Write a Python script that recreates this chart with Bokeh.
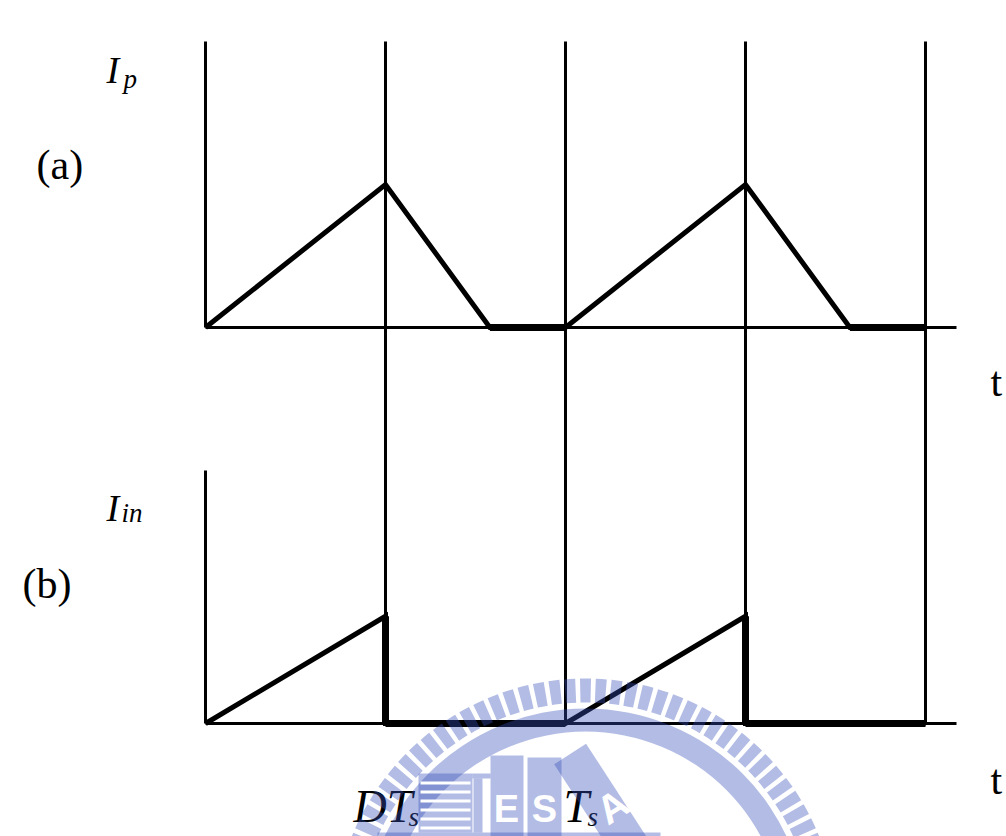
import numpy as np
from bokeh.plotting import figure
from bokeh.models import Range1d
from bokeh.core.properties import value
from bokeh.embed import file_html
from bokeh.resources import INLINE

# ---- waveform data (time normalised to one switching period Ts = 1) ----
marker_t = [0.0, 0.5, 1.0, 1.5, 2.0]          # 0, DTs, Ts, Ts+DTs, 2Ts
ip_t = [0.0, 0.5, 0.79, 1.0, 1.5, 1.79, 2.0]   # primary current Ip
ip_v = [0.0, 1.0, 0.0, 0.0, 1.0, 0.0, 0.0]
iin_t = [0.0, 0.5, 0.5, 1.0, 1.5, 1.5, 2.0]    # input current Iin
iin_v = [0.0, 0.75, 0.0, 0.0, 0.75, 0.0, 0.0]
time_labels = ["DT", "T"]                      # labelled instants (subscript s)
time_label_t = [0.5, 1.0]

# ---- layout of the two stacked panels (data units) ----
W, H = 1006, 836
X0, SX = 205.0, 360.0      # pixel of t=0, pixels per period
Y0, SY = 327.0, 143.0      # pixel of the upper baseline, pixels per unit current
base_a = 0.0
base_b = -(723.0 - Y0) / SY
axis_top_a = 2.0
axis_top_b = base_b + 1.77
t_end = (956.0 - X0) / SX
TEXT_SHIFT = 15            # compensates the renderer's baseline offset


def tx(px):
    return (px - X0) / SX


def ty(py):
    return (Y0 - py) / SY


p = figure(width=W, height=H, x_range=Range1d(tx(0), tx(W)), y_range=Range1d(ty(H), ty(0)),
           toolbar_location=None, output_backend="svg", min_border=0)
p.axis.visible = False
p.grid.visible = False
p.outline_line_color = None
p.background_fill_color = "white"
p.border_fill_color = "white"

thin = 3
ramp = 5
heavy = 7

# baselines
for b in (base_a, base_b):
    p.line([marker_t[0], t_end], [b, b], line_color="black", line_width=thin)

# vertical axes at t = 0 for each panel
p.line([marker_t[0]] * 2, [base_a, axis_top_a], line_color="black", line_width=thin)
p.line([marker_t[0]] * 2, [base_b, axis_top_b], line_color="black", line_width=thin)
# timing markers running through both panels
for t in marker_t[1:]:
    p.line([t, t], [base_b, axis_top_a], line_color="black", line_width=thin)


def draw_wave(ts, vs, base):
    ys = [base + v for v in vs]
    p.line(ts, ys, line_color="black", line_width=ramp, line_join="miter")
    # zero-current intervals and instantaneous drops are drawn heavier
    for i in range(len(ts) - 1):
        if (vs[i] == 0 and vs[i + 1] == 0) or ts[i] == ts[i + 1]:
            p.line(ts[i:i + 2], ys[i:i + 2], line_color="black", line_width=heavy)


draw_wave(ip_t, ip_v, base_a)
draw_wave(iin_t, iin_v, base_b)

serif = value("Liberation Serif")


def label(txt, px, py, size, italic=False, color="black", font=serif, bold=False, angle=0.0,
          align="left", baseline="alphabetic", alpha=1.0, shift=True):
    style = "italic" if italic else "normal"
    if bold:
        style = "bold"
    yy = py - TEXT_SHIFT if shift else py
    p.text(x=[tx(px)], y=[ty(yy)], text=[txt], text_font=font, text_font_size=f"{size}px",
           text_font_style=style, text_color=color, text_align=align, text_baseline=baseline,
           angle=angle, text_alpha=alpha)


# signal names and panel tags
label("I", 106, 84, 38, italic=True)
label("p", 123, 93, 27, italic=True)
label("(a)", 36, 179, 42)
label("I", 106, 522, 38, italic=True)
label("in", 121, 527, 27, italic=True)
label("(b)", 22, 598, 42)
label("t", 990, 396, 42)
label("t", 990, 794, 42)

# time instants under the lower baseline
for name, t in zip(time_labels, time_label_t):
    px = X0 + SX * t
    if name == "DT":
        label("DT", px - 32, 821, 46, italic=True)
        label("s", px + 23, 831, 27, italic=True)
    else:
        label("T", px - 2, 821, 46, italic=True)
        label("s", px + 22, 831, 27, italic=True)

# ---- faint library seal printed over the lower part of the page ----
seal = "#354FB8"
sa = 0.38
cx, cy = tx(585), ty(930)
ang = np.linspace(0, 2 * np.pi, 100, endpoint=False)
half = np.deg2rad(1.25)
p.annular_wedge(x=[cx] * len(ang), y=[cy] * len(ang), inner_radius=228, outer_radius=252,
                inner_radius_units="screen", outer_radius_units="screen",
                start_angle=list(ang - half), end_angle=list(ang + half),
                fill_color=seal, fill_alpha=sa, line_color=None)
p.annulus(x=[cx], y=[cy], inner_radius=199, outer_radius=222,
          inner_radius_units="screen", outer_radius_units="screen",
          fill_color=seal, fill_alpha=sa, line_color=None)


def box(x1, y1, x2, y2, color=seal, alpha=sa):
    p.quad(left=[tx(x1)], right=[tx(x2)], top=[ty(y1)], bottom=[ty(y2)],
           fill_color=color, fill_alpha=alpha, line_color=None)


box(418, 773, 472, 832)
box(472, 773, 490, 778)
box(473, 778, 482, 832)
box(490, 755, 523, 836)
box(527, 757, 561, 836)
box(377, 832, 660, 836)
for k in range(6):
    yy = 781 + 9 * k
    box(420, yy, 470, yy + 3, color="white", alpha=1.0)
p.rect(x=[tx(605)], y=[ty(808)], width=38, height=130, width_units="screen", height_units="screen",
       angle=np.deg2rad(33), fill_color=seal, fill_alpha=sa, line_color=None)
sans = value("Liberation Sans")
label("E", 506, 808, 38, color="white", font=sans, bold=True, align="center", baseline="middle",
      shift=False)
label("S", 544, 808, 38, color="white", font=sans, bold=True, align="center", baseline="middle",
      shift=False)
label("A", 612, 806, 40, color="white", font=sans, bold=True, align="center", baseline="middle",
      angle=np.deg2rad(33), shift=False)

open("out.html", "w").write(file_html(p, INLINE))
